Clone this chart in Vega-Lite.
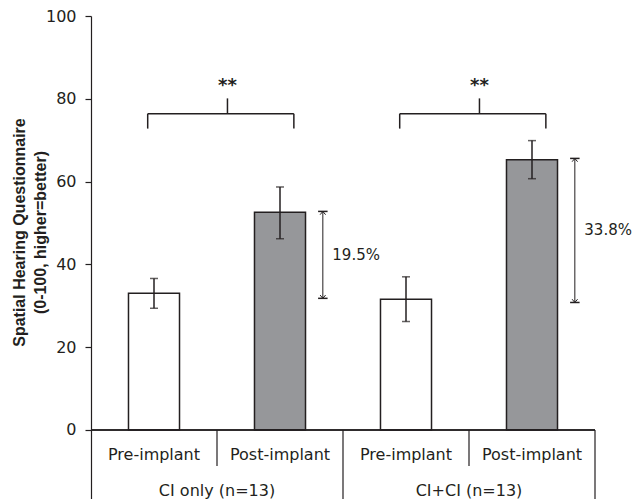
{
  "$schema": "https://vega.github.io/schema/vega-lite/v6.json",
  "width": 504,
  "height": 483,
  "autosize": {"type": "none"},
  "padding": {"left": 91, "top": 16, "right": 41, "bottom": 0},
  "background": "white",
  "config": {
    "view": {"stroke": null},
    "font": "DejaVu Sans",
    "text": {"font": "DejaVu Sans", "color": "#231f20"}
  },
  "datasets": {
    "bars": [
      {"bar": "CI only|Pre-implant", "group": "CI only (n=13)", "phase": "Pre-implant", "mean": 33.0, "lo": 29.4, "hi": 36.6},
      {"bar": "CI only|Post-implant", "group": "CI only (n=13)", "phase": "Post-implant", "mean": 52.6, "lo": 46.2, "hi": 58.7},
      {"bar": "CI+CI|Pre-implant", "group": "CI+CI (n=13)", "phase": "Pre-implant", "mean": 31.6, "lo": 26.2, "hi": 37.0},
      {"bar": "CI+CI|Post-implant", "group": "CI+CI (n=13)", "phase": "Post-implant", "mean": 65.3, "lo": 60.7, "hi": 69.9}
    ],
    "brackets": [
      {"from": "CI only|Pre-implant", "to": "CI only|Post-implant", "label": "**"},
      {"from": "CI+CI|Pre-implant", "to": "CI+CI|Post-implant", "label": "**"}
    ],
    "arrows": [
      {"bar": "CI only|Post-implant", "top": 52.8, "bottom": 31.8, "label": "19.5%"},
      {"bar": "CI+CI|Post-implant", "top": 65.6, "bottom": 30.8, "label": "33.8%"}
    ]
  },
  "layer": [
    {
      "data": {"name": "bars"},
      "mark": {"type": "bar", "stroke": "#231f20", "strokeWidth": 1.5, "width": {"band": 0.405}},
      "encoding": {
        "x": {"field": "bar", "type": "nominal", "axis": null,
              "scale": {"domain": ["CI only|Pre-implant", "CI only|Post-implant", "CI+CI|Pre-implant", "CI+CI|Post-implant"], "paddingInner": 0, "paddingOuter": 0}},
        "y": {"field": "mean", "type": "quantitative",
              "scale": {"domain": [-16.67, 100], "nice": false, "zero": false},
              "axis": {
                "values": [0, 20, 40, 60, 80, 100],
                "title": ["Spatial Hearing Questionnaire", "(0-100, higher=better)"],
                "titleFont": "Liberation Sans", "titleFontWeight": "bold", "titleFontSize": 16,
                "titleColor": "#231f20", "titleLineHeight": 21, "titleAngle": -90,
                "titleX": -67, "titleY": 216, "titleBaseline": "alphabetic", "titleAlign": "center",
                "labelFont": "DejaVu Sans", "labelFontSize": 16, "labelColor": "#231f20", "labelPadding": 9,
                "tickSize": 6, "tickColor": "#231f20", "tickWidth": 1.2,
                "domainColor": "#231f20", "domainWidth": 1.2, "grid": false
              }},
        "y2": {"datum": 0},
        "fill": {"field": "phase", "type": "nominal", "legend": null,
                 "scale": {"domain": ["Pre-implant", "Post-implant"], "range": ["#ffffff", "#96979a"]}}
      }
    },
    {
      "data": {"name": "bars"},
      "mark": {"type": "rule", "color": "#231f20", "strokeWidth": 1.5},
      "encoding": {
        "x": {"field": "bar", "type": "nominal", "axis": null},
        "y": {"field": "lo", "type": "quantitative"},
        "y2": {"field": "hi"}
      }
    },
    {
      "data": {"name": "bars"},
      "mark": {"type": "tick", "color": "#231f20", "size": 8, "thickness": 1.5},
      "encoding": {
        "x": {"field": "bar", "type": "nominal", "axis": null},
        "y": {"field": "lo", "type": "quantitative"}
      }
    },
    {
      "data": {"name": "bars"},
      "mark": {"type": "tick", "color": "#231f20", "size": 8, "thickness": 1.5},
      "encoding": {
        "x": {"field": "bar", "type": "nominal", "axis": null},
        "y": {"field": "hi", "type": "quantitative"}
      }
    },
    {
      "data": {"name": "bars"},
      "mark": {"type": "rule", "color": "#231f20", "strokeWidth": 1.2},
      "encoding": {
        "y": {"datum": 0, "type": "quantitative"}
      }
    },
    {
      "data": {"name": "bars"},
      "transform": [{"filter": "datum.phase === 'Post-implant'"}],
      "mark": {"type": "rule", "color": "#231f20", "strokeWidth": 1.2},
      "encoding": {
        "x": {"field": "bar", "type": "nominal", "axis": null, "bandPosition": 0},
        "y": {"datum": 0, "type": "quantitative"},
        "y2": {"datum": -8.7}
      }
    },
    {
      "data": {"name": "bars"},
      "transform": [{"filter": "datum.phase === 'Post-implant'"}],
      "mark": {"type": "rule", "color": "#231f20", "strokeWidth": 1.2},
      "encoding": {
        "x": {"field": "bar", "type": "nominal", "axis": null, "bandPosition": 1},
        "y": {"datum": 0, "type": "quantitative"},
        "y2": {"datum": -16.67}
      }
    },
    {
      "data": {"name": "bars"},
      "mark": {"type": "text", "fontSize": 16, "baseline": "middle", "align": "center"},
      "encoding": {
        "x": {"field": "bar", "type": "nominal", "axis": null},
        "y": {"datum": -6.0, "type": "quantitative"},
        "text": {"field": "phase"}
      }
    },
    {
      "data": {"name": "bars"},
      "transform": [{"filter": "datum.phase === 'Post-implant'"}],
      "mark": {"type": "text", "fontSize": 16, "baseline": "middle", "align": "center"},
      "encoding": {
        "x": {"field": "bar", "type": "nominal", "axis": null, "bandPosition": 0},
        "y": {"datum": -14.7, "type": "quantitative"},
        "text": {"field": "group"}
      }
    },
    {
      "data": {"name": "brackets"},
      "mark": {"type": "rule", "color": "#231f20", "strokeWidth": 1.5},
      "encoding": {
        "x": {"field": "from", "type": "nominal", "axis": null, "bandPosition": 0.45},
        "x2": {"field": "to", "bandPosition": 0.61},
        "y": {"datum": 76.4, "type": "quantitative"}
      }
    },
    {
      "data": {"name": "brackets"},
      "mark": {"type": "rule", "color": "#231f20", "strokeWidth": 1.5},
      "encoding": {
        "x": {"field": "from", "type": "nominal", "axis": null, "bandPosition": 0.45},
        "y": {"datum": 72.8, "type": "quantitative"},
        "y2": {"datum": 76.4}
      }
    },
    {
      "data": {"name": "brackets"},
      "mark": {"type": "rule", "color": "#231f20", "strokeWidth": 1.5},
      "encoding": {
        "x": {"field": "to", "type": "nominal", "axis": null, "bandPosition": 0.61},
        "y": {"datum": 72.8, "type": "quantitative"},
        "y2": {"datum": 76.4}
      }
    },
    {
      "data": {"name": "brackets"},
      "mark": {"type": "rule", "color": "#231f20", "strokeWidth": 1.5},
      "encoding": {
        "x": {"field": "to", "type": "nominal", "axis": null, "bandPosition": 0.083},
        "y": {"datum": 76.4, "type": "quantitative"},
        "y2": {"datum": 80.1}
      }
    },
    {
      "data": {"name": "brackets"},
      "mark": {"type": "text", "fontSize": 18, "fontWeight": "bold", "baseline": "alphabetic", "align": "center"},
      "encoding": {
        "x": {"field": "to", "type": "nominal", "axis": null, "bandPosition": 0.083},
        "y": {"datum": 81.8, "type": "quantitative"},
        "text": {"field": "label"}
      }
    },
    {
      "data": {"name": "arrows"},
      "mark": {"type": "rule", "color": "#231f20", "strokeWidth": 1},
      "encoding": {
        "x": {"field": "bar", "type": "nominal", "axis": null, "bandPosition": 0.84},
        "y": {"field": "top", "type": "quantitative"},
        "y2": {"field": "bottom"}
      }
    },
    {
      "data": {"name": "arrows"},
      "mark": {"type": "point", "shape": "M-1,0L1,0", "filled": false, "size": 90, "strokeWidth": 1.5, "color": "#231f20", "opacity": 1},
      "encoding": {
        "x": {"field": "bar", "type": "nominal", "axis": null, "bandPosition": 0.84},
        "y": {"field": "top", "type": "quantitative"}
      }
    },
    {
      "data": {"name": "arrows"},
      "mark": {"type": "point", "shape": "M-1,0L1,0", "filled": false, "size": 90, "strokeWidth": 1.5, "color": "#231f20", "opacity": 1},
      "encoding": {
        "x": {"field": "bar", "type": "nominal", "axis": null, "bandPosition": 0.84},
        "y": {"field": "bottom", "type": "quantitative"}
      }
    },
    {
      "data": {"name": "arrows"},
      "mark": {"type": "point", "shape": "M-1,1.2L0,0L1,1.2", "filled": false, "size": 30, "strokeWidth": 1, "color": "#231f20", "opacity": 1},
      "encoding": {
        "x": {"field": "bar", "type": "nominal", "axis": null, "bandPosition": 0.84},
        "y": {"field": "top", "type": "quantitative"}
      }
    },
    {
      "data": {"name": "arrows"},
      "mark": {"type": "point", "shape": "M-1,-1.2L0,0L1,-1.2", "filled": false, "size": 30, "strokeWidth": 1, "color": "#231f20", "opacity": 1},
      "encoding": {
        "x": {"field": "bar", "type": "nominal", "axis": null, "bandPosition": 0.84},
        "y": {"field": "bottom", "type": "quantitative"}
      }
    },
    {
      "data": {"name": "arrows"},
      "transform": [{"calculate": "(datum.top + datum.bottom) / 2", "as": "mid"}],
      "mark": {"type": "text", "fontSize": 15, "baseline": "middle", "align": "left"},
      "encoding": {
        "x": {"field": "bar", "type": "nominal", "axis": null, "bandPosition": 0.915},
        "y": {"field": "mid", "type": "quantitative"},
        "text": {"field": "label"}
      }
    }
  ]
}
